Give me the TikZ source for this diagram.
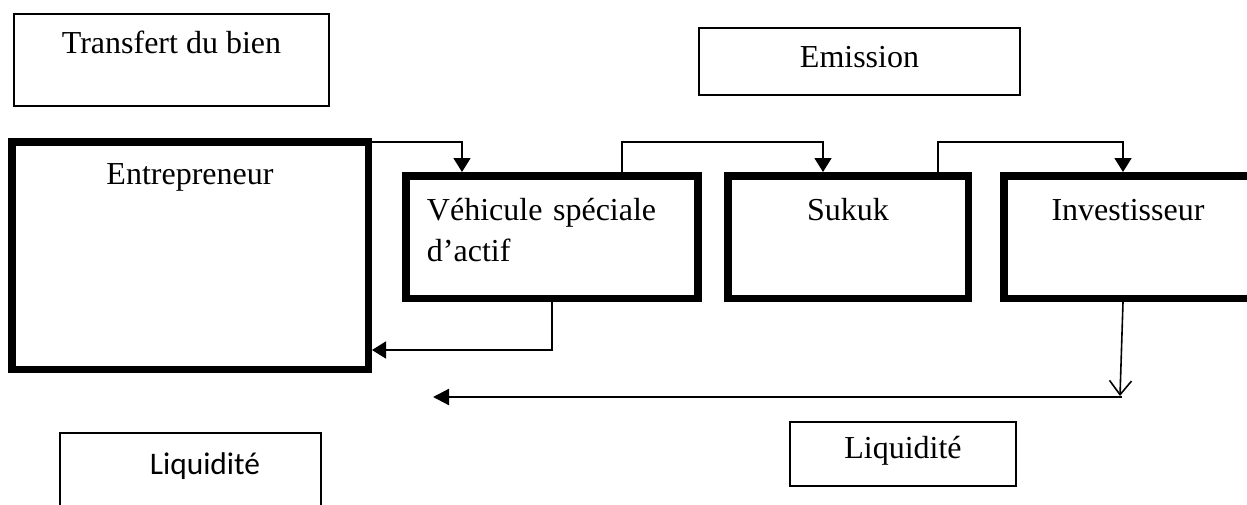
\documentclass[tikz,border=0pt]{standalone}
\usepackage{fontspec}
\setmainfont{Liberation Serif}
\newfontfamily\calibrifont{Carlito}
\usetikzlibrary{arrows.meta,calc}

\begin{document}
\begin{tikzpicture}[
  x=0.5pt, y=-0.5pt,
  txt/.style={font=\fontsize{16}{19}\selectfont},
  thinbox/.style={txt, draw, line width=1pt, anchor=north west, inner xsep=0pt, inner ysep=0pt},
  thickbox/.style={txt, draw, line width=3.75pt, anchor=north west, inner xsep=0pt, inner ysep=0pt},
  conn/.style={line width=0.8pt, -{Triangle[length=7pt,width=8.5pt]}},
  back/.style={line width=1.1pt, -{Triangle[length=8pt,width=8pt]}},
  drop/.style={line width=0.8pt, -{Straight Barb[length=7pt,width=11pt]}}
]
\useasboundingbox (0,0) rectangle (1247,504);
\fill[white] (0,0) rectangle (1247,504);
\clip (0,0) rectangle (1247,504);

% label boxes
\node[thinbox, minimum width=157.5pt, text height=19.5pt, text depth=26.5pt] (transfert) at (13,13) {Transfert du bien};
\node[thinbox, minimum width=160.5pt, text height=19.5pt, text depth=14pt] (emission) at (698,27) {Emission};
\node[thinbox, minimum width=113pt, text height=18pt, text depth=14pt] (liqright) at (789,421) {Liquidité};
\node[thinbox, minimum width=130.5pt, text height=20.5pt, text depth=29.5pt, font=\calibrifont\fontsize{15.7}{19}\selectfont] (liqleft) at (59,432) {\hspace*{14.5pt}Liquidité};

% actors
\node[thickbox, minimum width=178.25pt, text height=21.6pt, text depth=92.15pt] (ent) at (8,138) {Entrepreneur};
\node[thickbox, inner xsep=10.6pt, text width=125pt, align=left, text height=22.6pt, text depth=38.65pt, font=\fontsize{16}{20.5}\selectfont] (veh) at (402,172) {Véhicule spéciale\\d’actif};
\node[thickbox, minimum width=120.25pt, text height=22.6pt, text depth=38.65pt] (suk) at (724,172) {Sukuk};
\node[thickbox, minimum width=124.25pt, text height=22.6pt, text depth=38.65pt] (inv) at (1000,172) {Investisseur};

% flows
\draw[conn] ($(ent.north east)+(0,4)$) -| ($(veh.north west)+(60,0)$);
\draw[conn] ($(veh.north west)+(220,0)$) |- ($(suk.north west)+(99,-30)$) -- ($(suk.north west)+(99,0)$);
\draw[conn] ($(suk.north west)+(214,0)$) |- ($(inv.north west)+(123,-30)$) -- ($(inv.north west)+(123,0)$);
\draw[conn] ($(veh.south west)+(150,0)$) |- ($(ent.north east)+(0,212)$);

\coordinate (meet) at (1120,396);
\coordinate (turn) at (1122,397);
\coordinate (arrive) at (433,397);
\draw[drop] ($(inv.south west)+(123,0)$) -- (meet);
\draw[back] (turn) -- (arrive);
\end{tikzpicture}
\end{document}
